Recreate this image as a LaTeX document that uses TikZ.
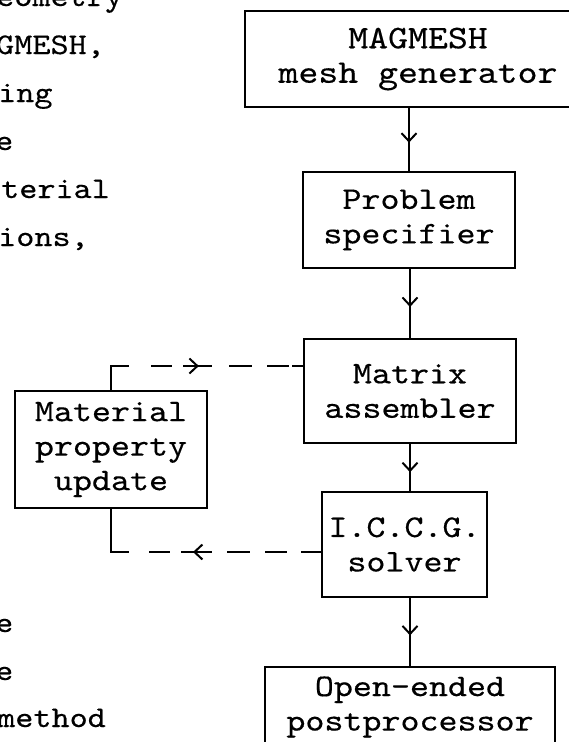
\documentclass[tikz,border=0pt]{standalone}
\usepackage{fontspec}
\newfontfamily\cour[FakeStretch=1.15,FakeBold=0.35]{lmmono10-regular.otf}
\usetikzlibrary{arrows.meta,decorations.markings}
\begin{document}
\begin{tikzpicture}[x=1pt,y=-1pt,
  box/.style={draw, line width=2.4pt, align=center, inner sep=0pt,
    font=\cour\fontsize{31.5}{34.5}\selectfont},
  conn/.style={line width=2pt},
  midarrow/.style={postaction={decorate},decoration={markings,
    mark=at position #1 with {\arrow{Straight Barb[length=8pt,width=15pt,line width=2pt]}}}},
  side/.style={font=\cour\fontsize{30}{30}\selectfont, anchor=base west, inner sep=0pt}]
\useasboundingbox (0,0) rectangle (569,742);
\clip (0,0) rectangle (569,742);
% left column fragments
\node[side] (s1) at (-4,6) {eometry};
\node[side] (s2) at (-4,54) {GMESH,};
\node[side] (s3) at (-2,102) {ing};
\node[side] (s4) at (-5,150) {e};
\node[side] (s5) at (1,198) {terial};
\node[side] (s6) at (-2,246) {ions,};
\node[side] (s7) at (-5,632) {e};
\node[side] (s8) at (-5,680) {e};
\node[side] (s9) at (-3,727) {method};
% boxes
\node[box, minimum width=346pt, minimum height=96pt, font=\cour\fontsize{33}{34.5}\selectfont] (b1) at (418,59) {MAGMESH\\mesh generator};
\node[box, minimum width=212pt, minimum height=96pt] (b2) at (409,220) {Problem\\specifier};
\node[box, minimum width=212pt, minimum height=104pt] (b3) at (410,391) {Matrix\\assembler};
\node[box, minimum width=165pt, minimum height=105pt] (b4) at (404.5,544.5) {I.C.C.G.\\solver};
\node[box, minimum width=290pt, minimum height=80pt] (b5) at (410,707) {Open-ended\\postprocessor};
\node[box, minimum width=192pt, minimum height=117pt] (mp) at (111,449.5) {Material\\property\\update};
% main flow
\draw[conn, midarrow=0.55] (b1.south -| b2.north) -- (b2.north);
\draw[conn, midarrow=0.55] (b2.south -| b3.north) -- (b3.north);
\draw[conn, midarrow=0.6] (b3.south) -- (b3.south |- b4.north);
\draw[conn, midarrow=0.55] (b4.south -| b5.north) -- (b5.north);
% feedback loop
\draw[conn, dash pattern=on 42pt off 22pt on 21pt off 11pt on 29pt off 17pt on 23pt off 15pt on 22pt off 3pt on 20pt,
  midarrow=0.518] (mp.north) |- ([yshift=25pt]b3.west);
\draw[conn, dash pattern=on 20pt off 14pt on 22pt off 15pt on 23pt off 15pt on 31pt off 11pt on 21pt off 20pt on 70pt,
  midarrow=0.506] ([yshift=-7.5pt]b4.west) -| (mp.south);
\end{tikzpicture}
\end{document}
